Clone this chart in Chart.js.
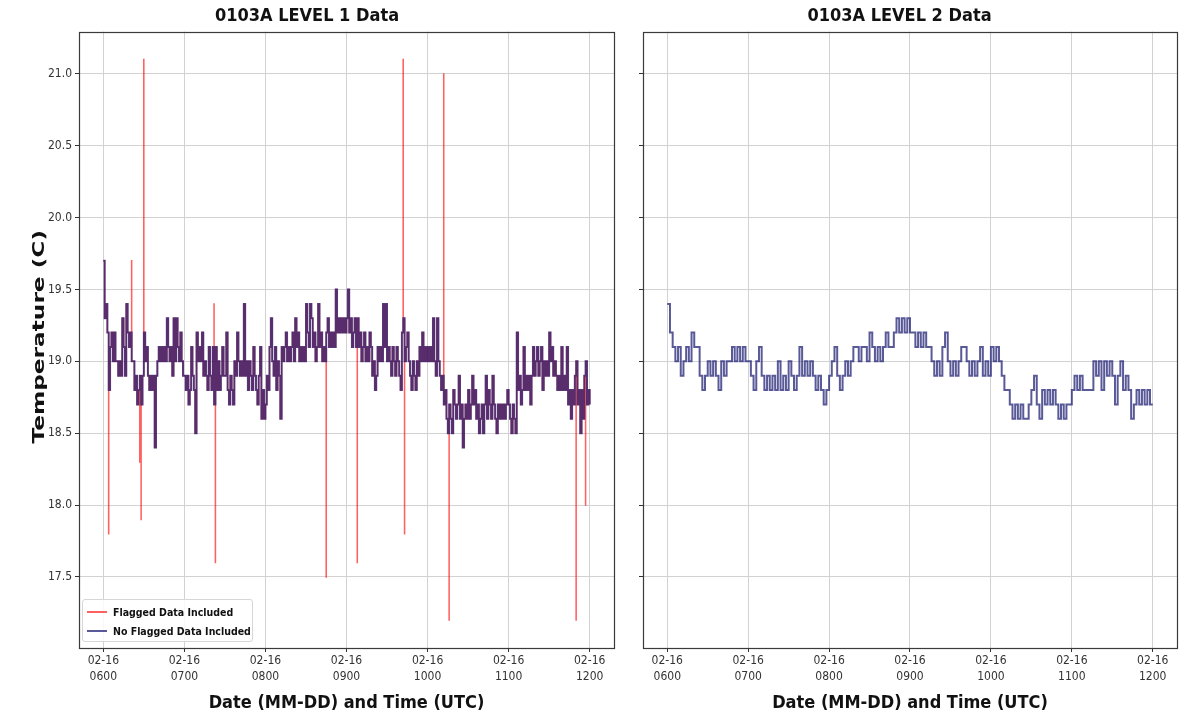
<!DOCTYPE html>
<html>
<head>
<meta charset="utf-8">
<script src="https://cdn.jsdelivr.net/npm/chart.js@4.4.1/dist/chart.umd.min.js"></script>
<style>
  html, body { margin: 0; padding: 0; background: #fff; }
  body { width: 1192px; height: 714px; position: relative; overflow: hidden;
         font-family: 'DejaVu Sans Condensed', 'DejaVu Sans', sans-serif; }
  canvas { position: absolute; top: 0; }
  #level1 { left: 0; }
  #level2 { left: 622px; }
  .legend { position: absolute; left: 82px; top: 599px; width: 171px; height: 43px;
            box-sizing: border-box; border: 1px solid #d6d6d6; border-radius: 3px;
            background: rgba(255, 255, 255, 0.85); padding-top: 2px; }
  .legend-item { display: flex; align-items: center; height: 19px; font-weight: bold;
                 font-size: 10.5px; color: #111; white-space: nowrap; }
  .legend-line { width: 20px; height: 2px; margin: 0 6px 0 4px; }
</style>
</head>
<body>
<canvas id="level1" width="622" height="714"></canvas>
<canvas id="level2" width="570" height="714"></canvas>
<div class="legend" id="legend"></div>

<script>
// x axis is hours (UTC) on 02-16
const hourStart = 6;
const hourEnd = 12;
const xMin = 5.7;
const xMax = 12.3;
const tickHours = [6, 7, 8, 9, 10, 11, 12];
const tickDates = ['02-16', '02-16', '02-16', '02-16', '02-16', '02-16', '02-16'];
const tickTimes = ['0600', '0700', '0800', '0900', '1000', '1100', '1200'];

const yMin = 17.005;
const yMax = 21.295;
const yTicks = [17.5, 18.0, 18.5, 19.0, 19.5, 20.0, 20.5, 21.0];

// Level 1, one reading per minute from 0600 to 1200 (flagged readings left out)
const level1Temps = [
    19.7, 19.3, 19.4, 19.2, 18.8, 19.1, 19.2, 19.0, 19.2, 19.0,
    19.0, 18.9, 19.0, 18.9, 19.3, 19.1, 18.9, 19.4, 19.2, 19.1,
    19.2, 19.0, 19.0, 18.8, 18.9, 18.7, 18.8, 18.9, 18.7, 18.9,
    19.2, 19.0, 19.1, 18.9, 18.8, 18.9, 18.8, 18.9, 18.4, 18.9,
    19.0, 19.1, 19.0, 19.1, 19.0, 19.1, 19.0, 19.3, 19.1, 19.0,
    19.1, 18.9, 19.3, 19.0, 19.3, 19.1, 19.0, 19.2, 19.0, 18.9,
    18.9, 18.8, 18.9, 18.7, 18.8, 19.1, 18.9, 18.8, 18.5, 19.2,
    19.0, 19.1, 19.0, 19.2, 18.9, 19.0, 18.9, 18.8, 19.1, 18.9,
    18.8, 19.1, 18.7, 19.1, 18.8, 19.0, 18.8, 18.9, 19.1, 18.9,
    18.9, 19.2, 18.8, 18.7, 18.9, 18.8, 18.7, 19.0, 18.9, 19.2,
    19.0, 18.9, 19.0, 18.9, 19.4, 18.9, 19.0, 18.8, 19.0, 18.9,
    18.8, 19.1, 18.9, 18.8, 18.7, 18.9, 19.1, 18.6, 18.8, 18.6,
    18.7, 18.9, 18.8, 19.1, 19.3, 19.0, 18.9, 19.1, 18.8, 19.0,
    18.9, 18.6, 19.1, 19.0, 19.1, 19.2, 19.0, 19.1, 19.0, 19.1,
    19.2, 19.0, 19.3, 19.1, 19.2, 19.0, 19.1, 19.0, 19.1, 19.0,
    19.4, 19.2, 19.1, 19.4, 19.3, 19.1, 19.2, 19.0, 19.1, 19.4,
    19.1, 19.2, 19.0, 19.1, 19.0, 19.2, 19.3, 19.1, 19.2, 19.1,
    19.2, 19.1, 19.5, 19.2, 19.3, 19.2, 19.3, 19.2, 19.3, 19.2,
    19.3, 19.5, 19.2, 19.3, 19.1, 19.2, 19.3, 19.1, 19.3, 19.1,
    19.2, 19.0, 19.1, 19.2, 19.0, 19.1, 19.0, 19.2, 19.1, 18.9,
    19.0, 18.8, 18.9, 19.1, 19.0, 19.1, 19.0, 19.4, 19.1, 19.4,
    19.0, 19.1, 19.0, 18.9, 19.1, 19.0, 18.9, 19.1, 19.0, 18.9,
    18.8, 19.2, 19.3, 19.0, 19.1, 19.2, 19.0, 18.9, 18.8, 19.0,
    18.9, 18.8, 19.0, 18.9, 19.1, 19.0, 19.2, 19.0, 19.1, 19.0,
    19.1, 19.0, 19.1, 19.0, 19.3, 19.0, 18.9, 19.3, 19.0, 18.9,
    18.8, 18.9, 18.7, 18.8, 18.6, 18.5, 18.7, 18.6, 18.5, 18.8,
    18.7, 18.6, 18.7, 18.9, 18.6, 18.7, 18.4, 18.6, 18.7, 18.6,
    18.8, 18.6, 18.7, 18.9, 18.7, 18.8, 18.6, 18.7, 18.5, 18.6,
    18.7, 18.5, 18.7, 18.9, 18.6, 18.8, 18.7, 18.6, 18.9, 18.7,
    18.6, 18.5, 18.7, 18.6, 18.7, 18.6, 18.7, 18.6, 18.7, 18.8,
    18.7, 18.6, 18.5, 18.7, 18.6, 18.5, 19.2, 18.8, 18.9, 18.7,
    18.8, 19.1, 18.8, 18.9, 18.8, 18.9, 18.7, 18.9, 19.1, 18.9,
    19.0, 19.1, 18.9, 19.0, 19.1, 18.8, 19.0, 18.9, 19.0, 18.9,
    19.2, 19.0, 19.1, 18.9, 19.0, 18.9, 18.8, 18.9, 18.8, 19.1,
    18.8, 18.9, 18.8, 19.1, 18.7, 18.8, 18.6, 18.8, 18.7, 18.9,
    19.0, 18.7, 18.8, 18.5, 18.8, 18.6, 18.9, 19.0, 18.7, 18.8,
    18.7
];

// flagged readings (minutes after 0600, value) only in the "Flagged Data Included" line
const flaggedMinutes = [3.95, 20.95, 26.95, 27.95, 29.95, 81.95, 82.95, 164.95, 187.95, 221.95, 222.95, 251.95, 255.95, 349.95, 356.95];
const flaggedTemps   = [17.8, 19.7, 18.3, 17.9, 21.1, 19.4, 17.6, 17.5, 17.6, 21.1, 17.8, 21.0, 17.2, 17.2, 18.0];

// Level 2, one reading every two minutes from 0600 to 1200
const level2Temps = [
    19.4, 19.2, 19.1, 19.0, 19.1, 18.9, 19.0, 19.1, 19.0, 19.2,
    19.1, 19.1, 18.9, 18.8, 18.9, 19.0, 18.9, 19.0, 18.9, 18.8,
    19.0, 18.9, 19.0, 19.0, 19.1, 19.0, 19.1, 19.0, 19.1, 19.0,
    19.0, 18.9, 18.8, 19.0, 19.1, 18.9, 18.8, 18.9, 18.8, 18.9,
    18.8, 19.0, 18.8, 18.9, 18.8, 19.0, 18.9, 18.8, 18.9, 19.1,
    18.9, 19.0, 18.9, 19.0, 18.9, 18.8, 18.9, 18.8, 18.7, 18.8,
    18.9, 19.0, 19.1, 18.9, 18.8, 18.9, 19.0, 18.9, 19.0, 19.1,
    19.1, 19.0, 19.1, 19.1, 19.0, 19.2, 19.1, 19.0, 19.1, 19.0,
    19.1, 19.2, 19.1, 19.1, 19.2, 19.3, 19.2, 19.3, 19.2, 19.3,
    19.2, 19.2, 19.1, 19.2, 19.1, 19.2, 19.1, 19.1, 19.0, 18.9,
    19.0, 18.9, 19.1, 19.2, 19.0, 18.9, 19.0, 18.9, 19.0, 19.1,
    19.1, 19.0, 18.9, 19.0, 18.9, 19.0, 19.1, 18.9, 19.0, 18.9,
    19.1, 19.0, 19.1, 19.0, 18.9, 18.8, 18.8, 18.7, 18.6, 18.7,
    18.6, 18.7, 18.6, 18.6, 18.7, 18.8, 18.9, 18.7, 18.6, 18.8,
    18.7, 18.8, 18.7, 18.8, 18.7, 18.6, 18.7, 18.6, 18.7, 18.7,
    18.8, 18.9, 18.8, 18.9, 18.8, 18.8, 18.8, 18.8, 19.0, 18.9,
    19.0, 18.8, 19.0, 18.9, 19.0, 18.9, 18.7, 18.9, 19.0, 18.8,
    18.9, 18.8, 18.6, 18.7, 18.8, 18.7, 18.8, 18.7, 18.8, 18.7,
    18.7
];

const flaggedColor = 'rgba(255, 0, 0, 0.62)';
const cleanColor = 'rgba(25, 25, 112, 0.72)';
const condensed = "'DejaVu Sans Condensed', 'DejaVu Sans', sans-serif";

// evenly spaced readings over 0600-1200
function toPoints(values) {
    const step = (hourEnd - hourStart) / (values.length - 1);
    return values.map((v, i) => ({ x: hourStart + i * step, y: v }));
}

const level1Points = toPoints(level1Temps);
const flaggedPoints = flaggedMinutes.map((m, i) => ({ x: hourStart + m / 60, y: flaggedTemps[i] }));
const level1AllPoints = level1Points.concat(flaggedPoints).sort((a, b) => a.x - b.x);
const level2Points = toPoints(level2Temps);

// --- plugins ---
const framePlugin = {
    id: 'frame',
    afterDatasetsDraw(chart) {
        const { ctx, chartArea: a } = chart;
        ctx.save();
        ctx.strokeStyle = '#3a3a3a';
        ctx.lineWidth = 1.2;
        ctx.strokeRect(Math.round(a.left) + 0.5, Math.round(a.top) + 0.5,
            Math.round(a.right - a.left), Math.round(a.bottom - a.top));
        ctx.restore();
    }
};

// rotated y title, stretched along its length like the original
const yTitlePlugin = {
    id: 'yTitle',
    afterDraw(chart, args, opts) {
        if (!opts.text) return;
        const { ctx, chartArea: a } = chart;
        ctx.save();
        ctx.translate(opts.x, (a.top + a.bottom) / 2 - 3);
        ctx.rotate(-Math.PI / 2);
        ctx.scale(opts.stretch, 1);
        ctx.font = "bold 15px 'DejaVu Sans', sans-serif";
        ctx.fillStyle = '#111';
        ctx.textAlign = 'center';
        ctx.textBaseline = 'middle';
        ctx.fillText(opts.text, 0, 0);
        ctx.restore();
    }
};

function makeChart(id, title, datasets, opts) {
    const ctx = document.getElementById(id).getContext('2d');
    return new Chart(ctx, {
        type: 'line',
        data: { datasets: datasets },
        options: {
            responsive: false,
            animation: false,
            events: [],
            layout: { padding: { left: 0, right: opts.padRight, top: 0, bottom: 0 } },
            scales: {
                x: {
                    type: 'linear',
                    min: xMin,
                    max: xMax,
                    afterBuildTicks: s => { s.ticks = tickHours.map(v => ({ value: v })); },
                    afterFit: s => { s.height = 66; },
                    grid: { color: '#d2d2d2', lineWidth: 1, tickLength: 4, tickColor: '#333' },
                    border: { display: false },
                    ticks: {
                        padding: 1,
                        color: '#333',
                        maxRotation: 0,
                        font: { family: condensed, size: 12, lineHeight: 1.35 },
                        callback: v => {
                            const i = tickHours.indexOf(v);
                            return [tickDates[i], tickTimes[i]];
                        }
                    },
                    title: {
                        display: true,
                        text: 'Date (MM-DD) and Time (UTC)',
                        color: '#111',
                        padding: { top: 0, bottom: 0 },
                        font: { family: condensed, size: 18, weight: 'bold' }
                    }
                },
                y: {
                    min: yMin,
                    max: yMax,
                    afterBuildTicks: s => { s.ticks = yTicks.map(v => ({ value: v })); },
                    afterFit: s => { s.width = opts.yWidth; },
                    grid: { color: '#d2d2d2', lineWidth: 1, tickLength: 4, tickColor: '#333' },
                    border: { display: false },
                    ticks: {
                        display: opts.showYLabels,
                        padding: 3,
                        color: '#333',
                        font: { family: condensed, size: 12 },
                        callback: v => v.toFixed(1)
                    }
                }
            },
            plugins: {
                legend: { display: false },
                tooltip: { enabled: false },
                title: {
                    display: true,
                    text: title,
                    color: '#111',
                    padding: { top: 6, bottom: 4 },
                    font: { family: condensed, size: 18, weight: 'bold' }
                },
                yTitle: { text: opts.yTitle, x: 40, stretch: 1.55 }
            }
        },
        plugins: [framePlugin, yTitlePlugin]
    });
}

function lineDataset(label, points, color, width, order) {
    return {
        label: label,
        data: points,
        borderColor: color,
        backgroundColor: color,
        borderWidth: width,
        pointRadius: 0,
        stepped: true,
        fill: false,
        order: order
    };
}

makeChart('level1', '0103A LEVEL 1 Data', [
    lineDataset('Flagged Data Included', level1AllPoints, flaggedColor, 1.5, 2),
    lineDataset('No Flagged Data Included', level1Points, cleanColor, 2, 1)
], { padRight: 8, yWidth: 79, showYLabels: true, yTitle: 'Temperature (C)' });

makeChart('level2', '0103A LEVEL 2 Data', [
    lineDataset('No Flagged Data Included', level2Points, cleanColor, 2, 1)
], { padRight: 15, yWidth: 21, showYLabels: false, yTitle: '' });

// legend box in the lower left of the Level 1 panel
const legendEl = document.getElementById('legend');
[['Flagged Data Included', flaggedColor], ['No Flagged Data Included', cleanColor]].forEach(([text, color]) => {
    const item = document.createElement('div');
    item.className = 'legend-item';
    item.innerHTML = `<span class="legend-line" style="background:${color}"></span>${text}`;
    legendEl.appendChild(item);
});
</script>
</body>
</html>
